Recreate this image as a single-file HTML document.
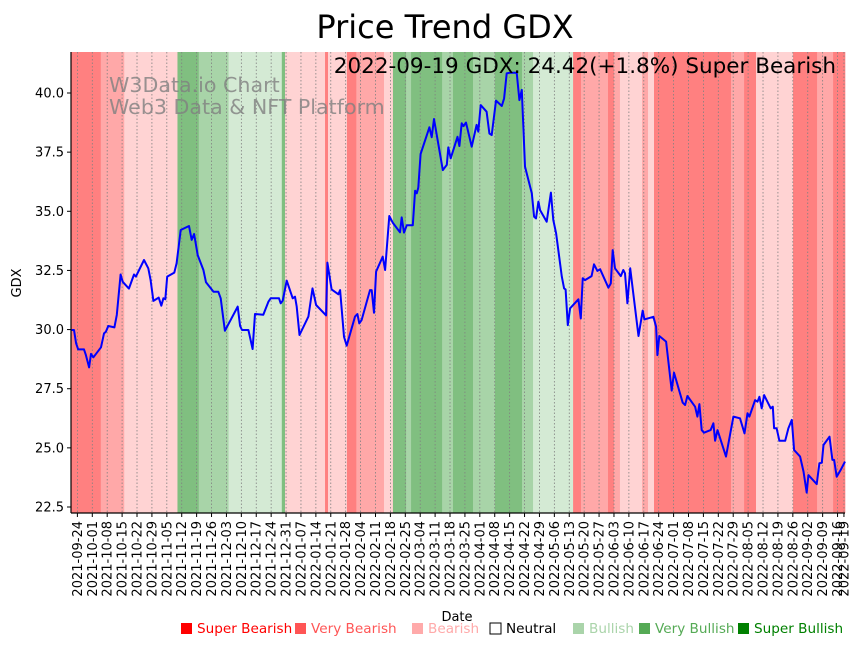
<!DOCTYPE html>
<html><head><meta charset="utf-8"><style>
body{margin:0;background:#fff;}
svg{display:block;font-family:"DejaVu Sans","Liberation Sans",sans-serif;}
</style></head><body>
<svg id="chart" width="864" height="646" viewBox="0 0 864 646" xmlns="http://www.w3.org/2000/svg">
<rect width="864" height="646" fill="#fff"/>
<g id="bands"></g>
<g id="grid"></g>
<text x="109" y="92" font-size="20.6" fill="#808080" fill-opacity="0.8">W3Data.io Chart</text>
<text x="109" y="114" font-size="20.6" fill="#808080" fill-opacity="0.8">Web3 Data &amp; NFT Platform</text>
<g id="series"></g>
<text x="836" y="73" font-size="21.5" text-anchor="end" fill="#000">2022-09-19 GDX: 24.42(+1.8%) Super Bearish</text>
<g id="axes"></g>
<text x="445" y="38" font-size="32" text-anchor="middle" fill="#000">Price Trend GDX</text>
<text x="457" y="621" font-size="13" text-anchor="middle">Date</text>
<text transform="translate(21,283) rotate(-90)" font-size="13" text-anchor="middle">GDX</text>
<g id="legend"></g>
</svg>
<script>
const startDate = Date.UTC(2021, 8, 21);
const dayOffsets = [0.3,1.4,2.4,3.4,6.1,7.0,8.5,9.4,10.5,14.1,15.5,16.4,17.5,20.4,21.5,23.3,24.3,27.2,29.6,30.5,34.3,36.3,37.4,38.7,41.2,42.4,43.4,44.3,45.2,48.5,49.6,51.5,55.4,56.7,57.8,59.5,62.2,63.4,66.9,69.2,70.3,71.6,72.3,78.3,79.4,80.3,83.3,85.3,86.4,90.3,92.7,93.8,97.7,98.5,99.4,101.3,104.1,105.2,106.0,107.3,111.5,113.4,115.1,119.8,120.4,122.4,125.6,126.4,128.2,129.5,133.4,134.5,135.4,136.5,140.4,141.2,142.3,143.3,146.4,147.5,149.5,151.1,154.5,155.3,156.4,157.7,160.5,161.6,162.4,163.1,164.2,168.3,169.4,170.5,174.6,176.5,177.2,178.3,181.5,182.4,183.5,184.3,185.5,188.2,190.5,191.3,192.4,195.2,196.5,197.6,199.6,202.3,203.4,204.6,206.2,209.3,210.6,211.7,213.2,216.4,217.5,218.4,219.5,220.3,223.4,225.4,226.5,227.8,230.5,231.6,232.3,233.3,234.4,238.3,239.4,240.3,241.4,244.5,245.6,247.2,248.5,252.4,253.5,254.4,255.5,258.2,259.4,260.2,261.3,262.6,266.5,268.5,269.3,273.5,274.8,275.4,276.3,279.5,282.1,283.2,287.3,288.4,289.5,293.1,294.2,295.1,296.2,297.3,300.4,301.7,302.5,303.6,307.6,311.1,314.2,316.3,317.7,318.6,321.3,322.4,323.3,324.4,325.5,328.6,329.6,330.2,331.4,332.7,335.4,336.9,338.5,339.6,342.4,344.0,345.5,346.3,350.2,351.5,352.6,353.4,356.2,357.6,358.4,359.6,361.5,363.5];
const prices = [29.98,29.98,29.42,29.16,29.16,28.92,28.40,28.97,28.83,29.25,29.84,29.91,30.15,30.09,30.62,32.33,32.02,31.73,32.33,32.24,32.94,32.59,32.09,31.21,31.35,31.01,31.32,31.28,32.24,32.41,32.80,34.21,34.38,33.79,34.04,33.15,32.52,32.00,31.60,31.60,31.32,30.40,29.95,30.97,30.15,29.98,29.98,29.18,30.66,30.63,31.18,31.32,31.32,31.11,31.22,32.07,31.32,31.39,30.97,29.77,30.55,31.74,31.04,30.60,32.83,31.70,31.49,31.67,29.70,29.32,30.55,30.66,30.26,30.40,31.67,31.67,30.71,32.45,33.08,32.52,34.80,34.52,34.11,34.74,34.10,34.41,34.41,35.87,35.76,36.00,37.42,38.55,38.13,38.90,36.74,36.96,37.70,37.24,38.15,37.76,38.72,38.60,38.75,37.73,38.65,38.37,39.49,39.21,38.29,38.22,39.68,39.45,39.77,40.83,40.86,40.86,39.70,40.13,36.89,35.76,34.77,34.70,35.41,35.05,34.56,35.79,34.63,34.07,32.24,31.74,31.70,30.19,30.90,31.28,30.47,32.17,32.09,32.26,32.76,32.48,32.55,31.77,31.95,33.36,32.59,32.26,32.52,32.38,31.11,32.59,29.73,30.80,30.43,30.54,30.12,28.92,29.73,29.49,27.42,28.18,26.91,26.81,27.19,26.74,26.32,26.85,25.75,25.64,25.75,26.04,25.30,25.75,24.63,26.32,26.25,25.61,26.46,26.32,27.02,26.95,27.16,26.67,27.23,26.67,26.74,25.83,25.83,25.30,25.30,25.83,26.18,24.91,24.63,24.00,23.11,23.85,23.47,24.35,24.37,25.12,25.47,24.49,24.49,23.78,24.07,24.42];
const bandBounds = [0,14,25,50,60,74,99,100.5,119.3,120.7,129.6,134,147,151.2,157.4,159.7,174.3,179.4,188.8,199.1,211.8,217,235.8,239.5,252.2,255,257.8,268.2,271,273.8,310,316.1,321.7,339.1,350.4,357.9,363.5];
const bandLevels = [-3,-2,-1,3,2,1,3,-1,-3,-1,-3,-2,-1,3,2,3,2,3,2,3,2,1,-3,-2,-3,-2,-1,-2,-1,-3,-2,-3,-1,-3,-2,-3];
const yTicks = [22.5,25.0,27.5,30.0,32.5,35.0,37.5,40.0];
const legendLabels = ["Super Bearish","Very Bearish","Bearish","Neutral","Bullish","Very Bullish","Super Bullish"];
const legendColors = ["#ff0000","#ff5555","#ffaaaa","#ffffff","#aad4aa","#55aa55","#008000"];
const legendTextColors = ["#ff0000","#ff5555","#ffaaaa","#000000","#aad4aa","#55aa55","#008000"];
const legendX = [181,295,412,490,573,639,738];

const NS = "http://www.w3.org/2000/svg";
const L = 71, R = 845, T = 52, B = 513;
const xScale = d => L + d * (R - L) / 363.5;
const yScale = v => 93 + (40 - v) * (507 - 93) / 17.5;
const bandFill = {"-3":"#ff8080","-2":"#ffa8a8","-1":"#ffd3d3","0":"#ffffff","1":"#d4ead4","2":"#a8d4a8","3":"#80bf80"};
function mk(tag, attrs, parent){const e=document.createElementNS(NS,tag);for(const k in attrs)e.setAttribute(k,attrs[k]);parent.appendChild(e);return e;}

const gB = document.getElementById('bands');
for (let i=0;i<bandLevels.length;i++){
  const x0=xScale(bandBounds[i]), x1=xScale(bandBounds[i+1]);
  const r=mk('rect',{x:x0,y:T,width:x1-x0+0.3,height:B-T,fill:bandFill[bandLevels[i]]},gB);
  
  
}

const gG = document.getElementById('grid'), gA = document.getElementById('axes');
const tickDays=[];
for(let d=3; d<=360; d+=7){tickDays.push(d);}
tickDays.push(363);
function fmt(d){const dt=new Date(startDate+d*86400000);return dt.toISOString().slice(0,10);}
tickDays.forEach(d=>{
  const x=xScale(d);
  const gl=mk('line',{x1:x,x2:x,y1:T,y2:B,stroke:'#808080','stroke-width':0.8,'stroke-dasharray':'1.5,2'},gG);
  
  
  const tk=mk('line',{x1:x,x2:x,y1:B,y2:B+4,stroke:'#000','stroke-width':1},gA);
  
  
  const t=mk('text',{transform:`translate(${x+4.5},${B+8}) rotate(-90)`,'text-anchor':'end','font-size':13},gA);
  t.textContent=fmt(d);
  
  
});
yTicks.forEach(v=>{
  const y=yScale(v);
  const tk=mk('line',{x1:L-4,x2:L,y1:y,y2:y,stroke:'#000','stroke-width':1},gA);
  
  
  const t=mk('text',{x:L-7,y:y+4.5,'text-anchor':'end','font-size':13},gA);
  t.textContent=v.toFixed(1);
  
  
});
const ax1=mk('line',{x1:L,x2:L,y1:T,y2:B,stroke:'#000','stroke-width':1.2},gA);


const ax2=mk('line',{x1:L,x2:R,y1:B,y2:B,stroke:'#000','stroke-width':1.2},gA);



const gS=document.getElementById('series');
const pts=prices.map((v,i)=>xScale(dayOffsets[i]).toFixed(1)+','+yScale(v).toFixed(1)).join(' ');
const pl=mk('polyline',{points:pts,fill:'none',stroke:'#0000ff','stroke-width':2,'stroke-linejoin':'round'},gS);



const gL=document.getElementById('legend');
legendLabels.forEach((lab,i)=>{
  const sq=mk('rect',{x:legendX[i],y:623,width:11,height:11,fill:legendColors[i],stroke:i===3?'#000':'none','stroke-width':1},gL);
  
  
  const t=mk('text',{x:legendX[i]+16,y:633,'font-size':13.6,fill:legendTextColors[i]},gL);
  t.textContent=lab;
  
  
});
</script>
</body></html>
